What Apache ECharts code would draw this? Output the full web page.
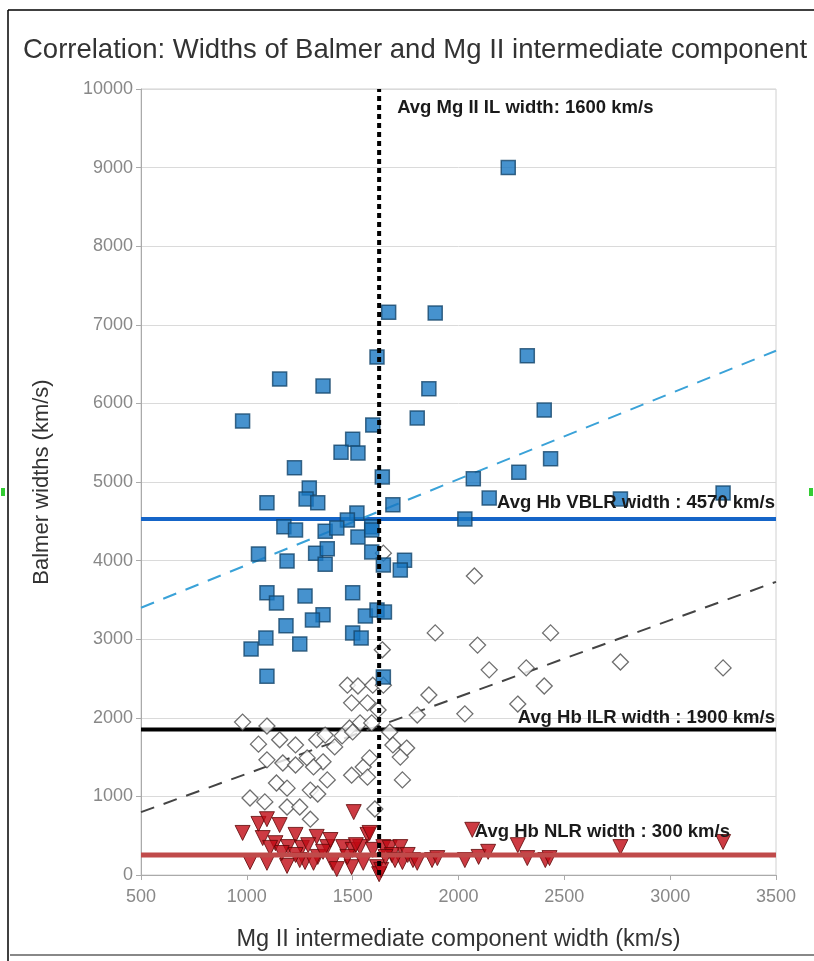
<!DOCTYPE html>
<html><head><meta charset="utf-8">
<script src="https://cdn.jsdelivr.net/npm/echarts/dist/echarts.min.js"></script>
<style>html,body{margin:0;padding:0;background:#fff}#c{width:814px;height:961px}</style>
</head><body><div id="c"></div>
<script>
// ---- Data ----
const titleText = 'Correlation: Widths of Balmer and Mg II intermediate component';
const xAxisName = 'Mg II intermediate component width (km/s)';
const yAxisName = 'Balmer widths (km/s)';
const xRange = [500, 3500];
const xStep = 500;
const yRange = [0, 10000];
const yStep = 1000;

// Hb VBLR (blue squares): [Mg II width, Balmer width]
const vblrPoints = [
  [2235,9000],[1670,7160],[1890,7150],[1615,6590],[1155,6310],[1360,6220],[1860,6185],
  [980,5775],[1805,5815],[1595,5725],[1500,5545],[1445,5380],[1525,5370],[1225,5180],
  [1640,5065],[2070,5040],[1295,4925],[1095,4735],[1280,4785],[1335,4735],[1690,4710],
  [2030,4530],[1520,4605],[1475,4515],[1175,4430],[1230,4390],[1370,4375],[1425,4415],
  [1590,4430],[1525,4300],[2325,6605],[2405,5915],[2435,5295],[2285,5125],[2145,4795],
  [2765,4785],[3250,4860],[1055,4085],[1190,3995],[1325,4095],[1380,4150],[1590,4110],
  [1745,4005],[1370,3955],[1645,3945],[1725,3880],[1095,3590],[1140,3460],[1275,3550],
  [1500,3590],[1360,3310],[1310,3245],[1185,3170],[1560,3295],[1615,3370],[1650,3345],
  [1090,3015],[1020,2875],[1250,2940],[1500,3080],[1540,3015],[1095,2530],[1645,2520],
  [1590,4390]
];
// Hb ILR (open diamonds)
const ilrPoints = [
  [1645,4095],[2075,3805],[1890,3080],[2435,3080],[2090,2925],[2145,2610],[2320,2635],
  [2765,2710],[3250,2635],[2405,2405],[1860,2290],[2280,2175],[1805,2035],[2030,2050],
  [1640,2865],[1475,2415],[1525,2405],[1595,2415],[1645,2415],[1495,2190],[1570,2190],
  [1620,2100],[980,1945],[1095,1895],[1535,1935],[1485,1870],[1590,1935],[1675,1820],
  [1055,1665],[1155,1720],[1230,1655],[1330,1720],[1370,1780],[1415,1630],[1450,1770],
  [1500,1820],[1690,1655],[1755,1615],[1725,1500],[1095,1465],[1170,1425],[1230,1400],
  [1285,1490],[1360,1440],[1315,1375],[1495,1270],[1550,1375],[1580,1490],[1570,1245],
  [1380,1210],[1140,1170],[1190,1105],[1300,1080],[1335,1030],[1735,1210],[1015,980],
  [1085,930],[1190,865],[1250,865],[1300,710],[1605,840]
];
// Hb NLR (red inverted triangles)
const nlrPoints = [
  [980,535],[1055,650],[1095,710],[1155,635],[1075,470],[1135,405],[1230,510],[1330,485],
  [1570,510],[1505,800],[1015,165],[1095,155],[1190,115],[1195,355],[1260,345],[1290,380],
  [1380,355],[1335,230],[1275,165],[1405,155],[1425,75],[1455,355],[1500,320],[1495,100],
  [1535,355],[1595,320],[1550,155],[1615,100],[1625,10],[1645,355],[1675,345],[1725,355],
  [1735,165],[1785,190],[1250,190],[1315,155],[1165,280],[1230,255],[1805,155],[1875,190],
  [2030,190],[2065,575],[2095,230],[2140,295],[2280,380],[2325,215],[2410,190],[2430,215],
  [2765,355],[3250,420],[1580,535],[1635,65],[1685,255],[1475,230],[1360,295],[1110,345],
  [1395,445],[1515,380],[1655,230],[1700,190],[1760,255],[1900,215]
];
// Linear trend lines (endpoints at axis ends)
const vblrTrend = [[500,3400],[3500,6670]];
const ilrTrend = [[500,800],[3500,3730]];
// Average reference lines
const avgMgII = 1625;
const avgVBLR = 4530;
const avgILR = 1850;
const avgNLR = 255;
const labelMgII = 'Avg Mg II IL width: 1600 km/s';
const labelVBLR = 'Avg Hb VBLR width : 4570 km/s';
const labelILR = 'Avg Hb ILR width : 1900 km/s';
const labelNLR = 'Avg Hb NLR width : 300 km/s';

// ---- Chart ----
const chart = echarts.init(document.getElementById('c'), null, {renderer: 'canvas'});
const FONT = '"Liberation Sans", Arial, sans-serif';

function hLine(y, color, width, z) {
  return {type: 'line', data: [[xRange[0], y], [xRange[1], y]], symbol: 'none', silent: true,
    lineStyle: {color: color, width: width}, z: z, animation: false};
}

const option = {
  animation: false,
  backgroundColor: '#fff',
  title: {
    text: titleText, left: 18, top: 31,
    textStyle: {fontFamily: FONT, fontSize: 27.5, fontWeight: 'normal', color: '#333'}
  },
  grid: {left: 141, right: 38, top: 89, bottom: 86, show: true, borderColor: '#d0d0d0', borderWidth: 1},
  xAxis: {
    type: 'value', min: xRange[0], max: xRange[1], interval: xStep,
    name: xAxisName, nameLocation: 'middle', nameGap: 53,
    nameTextStyle: {fontFamily: FONT, fontSize: 23.5, color: '#333'},
    axisLine: {show: true, lineStyle: {color: '#aaa', width: 1}},
    axisTick: {show: true, length: 5, lineStyle: {color: '#aaa'}},
    axisLabel: {fontFamily: FONT, fontSize: 18, color: '#888', margin: 13, formatter: v => String(v)},
    splitLine: {show: false}
  },
  yAxis: {
    type: 'value', min: yRange[0], max: yRange[1], interval: yStep,
    name: yAxisName, nameLocation: 'middle', nameGap: 88, nameRotate: 90,
    nameTextStyle: {fontFamily: FONT, fontSize: 22, color: '#333'},
    axisLine: {show: true, lineStyle: {color: '#aaa', width: 1}},
    axisTick: {show: true, length: 5, lineStyle: {color: '#aaa'}},
    axisLabel: {fontFamily: FONT, fontSize: 18, color: '#888', margin: 8, formatter: v => String(v)},
    splitLine: {show: true, lineStyle: {color: '#dadada', width: 1}}
  },
  series: [
    hLine(avgVBLR, '#1565c8', 4, 2),
    hLine(avgILR, '#000', 4, 2),
    hLine(avgNLR, '#c04a4a', 5, 4),
    {type: 'line', data: vblrTrend, symbol: 'none', silent: true, z: 3,
      lineStyle: {color: '#3aa2d8', width: 2, type: [14, 10]}},
    {type: 'line', data: ilrTrend, symbol: 'none', silent: true, z: 3,
      lineStyle: {color: '#444', width: 2, type: [14, 10]}},
    {type: 'scatter', data: ilrPoints, symbol: 'diamond', symbolSize: 16, z: 5,
      itemStyle: {color: '#fff', borderColor: '#4a4a4a', borderWidth: 1.3}},
    {type: 'scatter', data: nlrPoints, symbol: 'triangle', symbolRotate: 180, symbolSize: 15, z: 3,
      itemStyle: {color: '#c00a14', borderColor: '#5e0606', borderWidth: 1}},
    {type: 'scatter', data: vblrPoints, symbol: 'rect', symbolSize: 14, z: 6,
      itemStyle: {color: '#1877c2', borderColor: '#15466c', borderWidth: 1.5}},
    {type: 'line', data: [[avgMgII, yRange[0]], [avgMgII, yRange[1]]], symbol: 'none', silent: true, z: 8,
      lineStyle: {color: '#000', width: 4, type: [5, 4]}}
  ]
};
chart.setOption(option);

const px = (x, y) => chart.convertToPixel({gridIndex: 0}, [x, y]);
const pMg = px(avgMgII, yRange[1]);
const pV = px(xRange[1], avgVBLR);
const pI = px(xRange[1], avgILR);
const pN = px(xRange[1], avgNLR);
const lblStyle = {fontFamily: FONT, fontSize: 18.5, fontWeight: 'bold', fill: '#1a1a1a', textVerticalAlign: 'middle'};
chart.setOption({
  graphic: [
    {type: 'text', x: pMg[0] + 18, y: pMg[1] + 19, z: 100,
      style: Object.assign({}, lblStyle, {text: labelMgII, textAlign: 'left'})},
    {type: 'text', x: pV[0] - 1, y: pV[1] - 16, z: 100,
      style: Object.assign({}, lblStyle, {text: labelVBLR, textAlign: 'right'})},
    {type: 'text', x: pI[0] - 1, y: pI[1] - 12, z: 100,
      style: Object.assign({}, lblStyle, {text: labelILR, textAlign: 'right'})},
    {type: 'text', x: pN[0] - 46, y: pN[1] - 23, z: 100,
      style: Object.assign({}, lblStyle, {text: labelNLR, textAlign: 'right'})},
    // frame of the screenshot
    {type: 'line', shape: {x1: 8, y1: 10, x2: 814, y2: 10}, style: {stroke: '#000', lineWidth: 1.5}, z: 100},
    {type: 'line', shape: {x1: 8, y1: 10, x2: 8, y2: 961}, style: {stroke: '#000', lineWidth: 1.5}, z: 100},
    {type: 'line', shape: {x1: 10, y1: 955, x2: 814, y2: 955}, style: {stroke: '#888', lineWidth: 2}, z: 100},
    {type: 'rect', shape: {x: 1, y: 488, width: 4, height: 8}, style: {fill: '#3c3'}, z: 100},
    {type: 'rect', shape: {x: 809, y: 488, width: 4, height: 8}, style: {fill: '#3c3'}, z: 100}
  ]
});
</script>
</body></html>
